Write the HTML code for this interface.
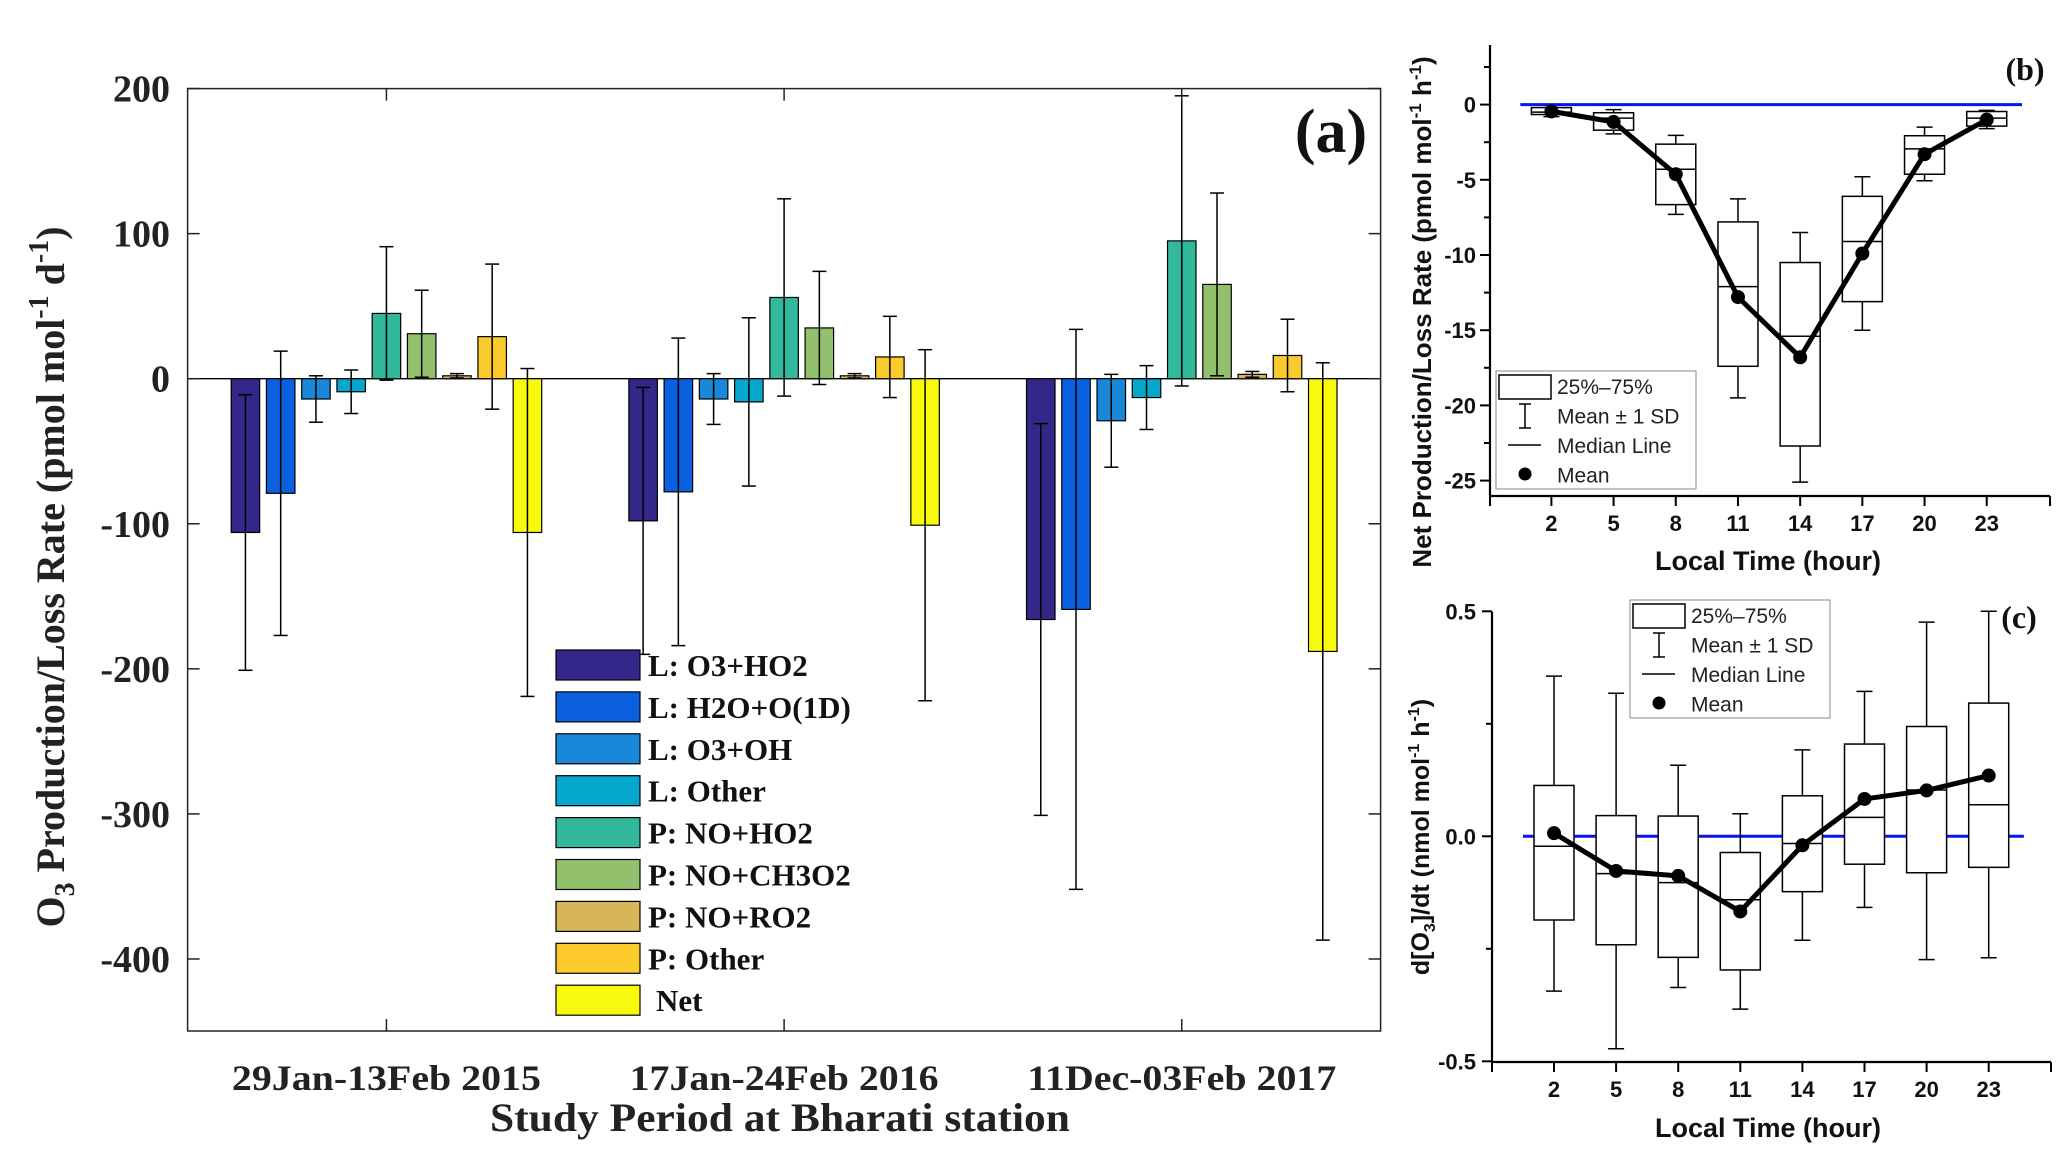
<!DOCTYPE html>
<html><head><meta charset="utf-8"><title>O3 production/loss</title>
<style>html,body{margin:0;padding:0;background:#fff}svg{display:block}</style></head>
<body>
<svg id="fig" width="2067" height="1162" viewBox="0 0 2067 1162" xmlns="http://www.w3.org/2000/svg">
<g id="pa"></g>
<g id="pb"></g>
<g id="pc"></g>
</svg>
<script>
// ---------- Panel (a) data ----------
const periods = ["29Jan-13Feb 2015", "17Jan-24Feb 2016", "11Dec-03Feb 2017"];
const processes = ["L: O3+HO2", "L: H2O+O(1D)", "L: O3+OH", "L: Other", "P: NO+HO2", "P: NO+CH3O2", "P: NO+RO2", "P: Other", "Net"];
const colorsA = ["#33288a", "#0b60e0", "#1a88d8", "#05a8cc", "#32b89a", "#92c06c", "#d6b656", "#fbcb2e", "#f8fa0d"];
const means2015 = [-106, -79, -14, -9, 45, 31, 2, 29, -106];
const sd2015 = [95, 98, 16, 15, 46, 30, 1.5, 50, 113];
const means2016 = [-98, -78, -14, -16, 56, 35, 2, 15, -101];
const sd2016 = [92, 106, 17.5, 58, 68, 39, 1.5, 28, 121];
const means2017 = [-166, -159, -29, -13, 95, 65, 3, 16, -188];
const sd2017 = [135, 193, 32, 22, 100, 63, 2, 25, 199];
const yTicksA = [200, 100, 0, -100, -200, -300, -400];

// ---------- Panel (b) data ----------
const hours = [2, 5, 8, 11, 14, 17, 20, 23];
const bQ3 = [-0.2, -0.54, -2.63, -7.8, -10.5, -6.1, -2.07, -0.46];
const bQ1 = [-0.66, -1.7, -6.65, -17.4, -22.7, -13.1, -4.63, -1.43];
const bMedian = [-0.5, -0.9, -4.3, -12.1, -15.4, -9.1, -2.94, -0.9];
const bMean = [-0.45, -1.15, -4.63, -12.8, -16.8, -9.9, -3.3, -1.0];
const bSdHi = [-0.2, -0.33, -2.05, -6.27, -8.5, -4.8, -1.5, -0.38];
const bSdLo = [-0.8, -1.95, -7.3, -19.5, -25.1, -15.0, -5.06, -1.6];
const yTicksB = [0, -5, -10, -15, -20, -25];

// ---------- Panel (c) data ----------
const cQ3 = [0.113, 0.046, 0.045, -0.036, 0.090, 0.205, 0.244, 0.296];
const cQ1 = [-0.186, -0.241, -0.269, -0.297, -0.123, -0.062, -0.081, -0.069];
const cMedian = [-0.022, -0.083, -0.103, -0.141, -0.016, 0.042, 0.103, 0.07];
const cMean = [0.007, -0.077, -0.088, -0.167, -0.02, 0.083, 0.102, 0.135];
const cSdHi = [0.356, 0.318, 0.158, 0.05, 0.192, 0.322, 0.476, 0.54];
const cSdLo = [-0.344, -0.472, -0.336, -0.384, -0.231, -0.158, -0.274, -0.27];
const yTicksC = [0.5, 0.0, -0.5];

const NS = "http://www.w3.org/2000/svg";
function mk(parent, tag, attrs, text) {
  const e = document.createElementNS(NS, tag);
  for (const k in attrs) e.setAttribute(k, attrs[k]);
  if (text !== undefined) e.textContent = text;
  parent.appendChild(e);
  return e;
}
const SERIF = "'Liberation Serif', serif";
const SANS = "'Liberation Sans', Arial, sans-serif";

// ================= Panel A =================
(function () {
  const g = document.getElementById("pa");
  const L = 187.6, R = 1380.6, T = 88.6, B = 1031;
  const ya = v => 378.7 - v * 1.4507;
  const xg = i => L + (R - L) / 3 * (i + 0.5);
  const allMeans = [means2015, means2016, means2017];
  const allSd = [sd2015, sd2016, sd2017];
  let e;
  e = mk(g, "line", {x1: L, x2: R, y1: ya(0), y2: ya(0), stroke: "#000", "stroke-width": 1.3});
  
  
  for (let gi = 0; gi < 3; gi++) {
    for (let i = 0; i < processes.length; i++) {
      const m = allMeans[gi][i], s = allSd[gi][i];
      const cx = xg(gi) + (i - 4) * 35.25, w = 28.5;
      const y0 = ya(Math.max(0, m)), y1 = ya(Math.min(0, m));
      e = mk(g, "rect", {x: cx - w / 2, y: y0, width: w, height: Math.max(1, y1 - y0), fill: colorsA[i], stroke: "#000", "stroke-width": 1.2});
      
      
      const eg = mk(g, "g", {stroke: "#000", "stroke-width": 1.5});
      
      
      mk(eg, "line", {x1: cx, x2: cx, y1: ya(m + s), y2: ya(m - s)});
      mk(eg, "line", {x1: cx - 7, x2: cx + 7, y1: ya(m + s), y2: ya(m + s)});
      mk(eg, "line", {x1: cx - 7, x2: cx + 7, y1: ya(m - s), y2: ya(m - s)});
    }
  }
  e = mk(g, "rect", {x: L, y: T, width: R - L, height: B - T, fill: "none", stroke: "#222", "stroke-width": 1.5});
  
  
  yTicksA.forEach(v => {
    mk(g, "line", {x1: L, x2: L + 12, y1: ya(v), y2: ya(v), stroke: "#222", "stroke-width": 1.5});
    mk(g, "line", {x1: R, x2: R - 12, y1: ya(v), y2: ya(v), stroke: "#222", "stroke-width": 1.5});
    e = mk(g, "text", {x: 170, y: ya(v) + 13, "text-anchor": "end", "font-family": SERIF, "font-weight": "bold", "font-size": 38, fill: "#222"}, String(v));
    
    
  });
  periods.forEach((p, i) => {
    mk(g, "line", {x1: xg(i), x2: xg(i), y1: B, y2: B - 12, stroke: "#222", "stroke-width": 1.5});
    mk(g, "line", {x1: xg(i), x2: xg(i), y1: T, y2: T + 12, stroke: "#222", "stroke-width": 1.5});
    e = mk(g, "text", {x: xg(i), y: 1090, "text-anchor": "middle", "font-family": SERIF, "font-weight": "bold", "font-size": 36, fill: "#222", textLength: 309, lengthAdjust: "spacingAndGlyphs"}, p);
    
    
  });
  e = mk(g, "text", {x: 780, y: 1131, "text-anchor": "middle", "font-family": SERIF, "font-weight": "bold", "font-size": 40, fill: "#222", textLength: 580, lengthAdjust: "spacingAndGlyphs"}, "Study Period at Bharati station");
  
  
  e = mk(g, "text", {x: 0, y: 0, transform: "translate(64,577) rotate(-90)", "text-anchor": "middle", "font-family": SERIF, "font-weight": "bold", "font-size": 40, fill: "#222"});
  
  
  e.innerHTML = 'O<tspan font-size="28" dy="10">3</tspan><tspan dy="-10"> Production/Loss Rate (pmol mol</tspan><tspan font-size="28" dy="-16">-1</tspan><tspan dy="16"> d</tspan><tspan font-size="28" dy="-16">-1</tspan><tspan dy="16">)</tspan>';
  e = mk(g, "text", {x: 1331, y: 152, "text-anchor": "middle", "font-family": SERIF, "font-weight": "bold", "font-size": 62, fill: "#111"}, "(a)");
  
  
  const lg = mk(g, "g", {});
  
  
  processes.forEach((p, i) => {
    const yc = 665 + i * 41.9;
    const le = mk(lg, "g", {});
    
    
    mk(le, "rect", {x: 556, y: yc - 15, width: 84, height: 30, fill: colorsA[i], stroke: "#000", "stroke-width": 1.2});
    mk(le, "text", {x: i === 8 ? 656 : 648, y: yc + 11, "font-family": SERIF, "font-weight": "bold", "font-size": 31, fill: "#111"}, p);
  });
})();

// ================= Box panels =================
function boxPanel(id, o) {
  const g = document.getElementById(id);
  const xs = h => o.x2 + (h - 2) * o.dx;
  const ys = v => o.y0 - v * o.py;
  let e;
  e = mk(g, "line", {x1: o.axL, x2: o.axL, y1: o.axT, y2: o.axB, stroke: "#000", "stroke-width": 2.2});
  
  
  e = mk(g, "line", {x1: o.axL, x2: o.axR, y1: o.axB, y2: o.axB, stroke: "#000", "stroke-width": 2.2});
  
  
  o.minor.forEach(v => mk(g, "line", {x1: o.axL - 6, x2: o.axL, y1: ys(v), y2: ys(v), stroke: "#000", "stroke-width": 2}));
  o.ticks.forEach(v => {
    mk(g, "line", {x1: o.axL - 10, x2: o.axL, y1: ys(v), y2: ys(v), stroke: "#000", "stroke-width": 2});
    e = mk(g, "text", {x: 1476, y: ys(v) + 8, "text-anchor": "end", "font-family": SANS, "font-weight": "bold", "font-size": 22, fill: "#111"}, o.fmt(v));
    
    
  });
  [o.axL, o.axR].forEach(x => mk(g, "line", {x1: x, x2: x, y1: o.axB, y2: o.axB + 10, stroke: "#000", "stroke-width": 2}));
  hours.forEach(h => {
    mk(g, "line", {x1: xs(h), x2: xs(h), y1: o.axB, y2: o.axB + 10, stroke: "#000", "stroke-width": 2});
    e = mk(g, "text", {x: xs(h), y: o.axB + 35, "text-anchor": "middle", "font-family": SANS, "font-weight": "bold", "font-size": 22, fill: "#111"}, String(h));
    
    
  });
  e = mk(g, "line", {x1: xs(0.5), x2: xs(24.7), y1: ys(0), y2: ys(0), stroke: "#0a14f0", "stroke-width": 3});
  
  
  hours.forEach((h, i) => {
    const x = xs(h), bg = mk(g, "g", {stroke: "#000", "stroke-width": 1.5, fill: "none"});
    
    
    mk(bg, "line", {x1: x, x2: x, y1: ys(o.hi[i]), y2: ys(o.q3[i])});
    mk(bg, "line", {x1: x, x2: x, y1: ys(o.q1[i]), y2: ys(o.lo[i])});
    mk(bg, "line", {x1: x - 8, x2: x + 8, y1: ys(o.hi[i]), y2: ys(o.hi[i])});
    mk(bg, "line", {x1: x - 8, x2: x + 8, y1: ys(o.lo[i]), y2: ys(o.lo[i])});
    mk(bg, "rect", {x: x - 20, y: ys(o.q3[i]), width: 40, height: ys(o.q1[i]) - ys(o.q3[i]), fill: "#fff"});
    mk(bg, "line", {x1: x - 20, x2: x + 20, y1: ys(o.med[i]), y2: ys(o.med[i])});
  });
  const pts = hours.map((h, i) => xs(h) + "," + ys(o.mean[i])).join(" ");
  e = mk(g, "polyline", {points: pts, fill: "none", stroke: "#000", "stroke-width": 5, "stroke-linejoin": "round"});
  
  
  hours.forEach((h, i) => {
    e = mk(g, "circle", {cx: xs(h), cy: ys(o.mean[i]), r: 7, fill: "#000"});
    
    
  });
  const lg = mk(g, "g", {});
  
  
  const lx = o.legX, ly = o.legY;
  mk(lg, "rect", {x: lx, y: ly, width: 200, height: 118, fill: "#fff", stroke: "#888", "stroke-width": 1});
  mk(lg, "rect", {x: lx + 3, y: ly + 4, width: 52, height: 24, fill: "#fff", stroke: "#000", "stroke-width": 1.5});
  mk(lg, "line", {x1: lx + 29, x2: lx + 29, y1: ly + 33, y2: ly + 57, stroke: "#000", "stroke-width": 1.5});
  mk(lg, "line", {x1: lx + 23, x2: lx + 35, y1: ly + 33, y2: ly + 33, stroke: "#000", "stroke-width": 1.5});
  mk(lg, "line", {x1: lx + 23, x2: lx + 35, y1: ly + 57, y2: ly + 57, stroke: "#000", "stroke-width": 1.5});
  mk(lg, "line", {x1: lx + 12, x2: lx + 45, y1: ly + 74, y2: ly + 74, stroke: "#000", "stroke-width": 1.5});
  mk(lg, "circle", {cx: lx + 29, cy: ly + 103, r: 6.5, fill: "#000"});
  ["25%\u201375%", "Mean \u00b1 1 SD", "Median Line", "Mean"].forEach((t, k) => {
    mk(lg, "text", {x: lx + 61, y: ly + 23 + k * 29.5, "font-family": SANS, "font-size": 21, fill: "#222"}, t);
  });
  e = mk(g, "text", {x: 1768, y: o.xtY, "text-anchor": "middle", "font-family": SANS, "font-weight": "bold", "font-size": 27, fill: "#111"}, "Local Time (hour)");
  
  
  e = mk(g, "text", {x: 0, y: 0, transform: "translate(" + o.ytX + "," + o.ytY + ") rotate(-90)", "text-anchor": "middle", "font-family": SANS, "font-weight": "bold", "font-size": o.ytSize, fill: "#111"});
  
  
  e.innerHTML = o.ytitle;
  e = mk(g, "text", {x: o.lblX, y: o.lblY, "text-anchor": "middle", "font-family": SERIF, "font-weight": "bold", "font-size": 32, fill: "#111"}, o.lbl);
  
  
}

boxPanel("pb", {
  x2: 1551.4, dx: 20.73, y0: 104.6, py: 15.04,
  axL: 1490, axR: 2050, axT: 45, axB: 496,
  ticks: yTicksB, minor: [2.5, -2.5, -7.5, -12.5, -17.5, -22.5], fmt: v => String(v),
  q3: bQ3, q1: bQ1, med: bMedian, mean: bMean, hi: bSdHi, lo: bSdLo,
  legX: 1496, legY: 371, xtY: 570, ytX: 1431, ytY: 312, ytSize: 26,
  ytitle: 'Net Production/Loss Rate (pmol mol<tspan font-size="17" dy="-10">-1</tspan><tspan dy="10"> h</tspan><tspan font-size="17" dy="-10">-1</tspan><tspan dy="10">)</tspan>',
  lbl: "(b)", lblX: 2025, lblY: 80
});
boxPanel("pc", {
  x2: 1554, dx: 20.7, y0: 836.3, py: 450,
  axL: 1492, axR: 2051, axT: 611.7, axB: 1062,
  ticks: yTicksC, minor: [0.25, -0.25], fmt: v => v.toFixed(1),
  q3: cQ3, q1: cQ1, med: cMedian, mean: cMean, hi: cSdHi.map(v => Math.min(v, 0.5)), lo: cSdLo,
  legX: 1630, legY: 600, xtY: 1137, ytX: 1429, ytY: 837, ytSize: 25,
  ytitle: 'd[O<tspan font-size="16" dy="6">3</tspan><tspan dy="-6">]/dt (nmol mol</tspan><tspan font-size="16" dy="-10">-1</tspan><tspan dy="10"> h</tspan><tspan font-size="16" dy="-10">-1</tspan><tspan dy="10">)</tspan>',
  lbl: "(c)", lblX: 2019, lblY: 628
});
</script>
</body></html>
